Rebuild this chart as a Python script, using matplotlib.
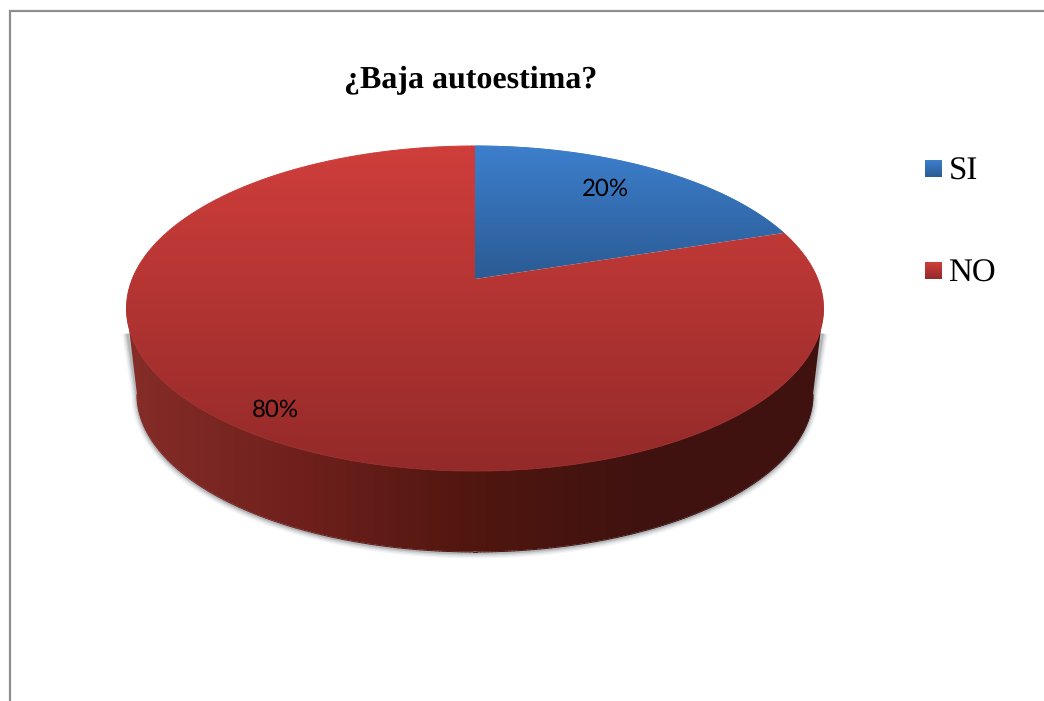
#!/usr/bin/env python3
"""Pie 3D "¿Baja autoestima?" (SI / NO), drawn in pixel coords of the original picture."""
import matplotlib
matplotlib.use("Agg")
import matplotlib.pyplot as plt
import numpy as np
from matplotlib.collections import LineCollection
from matplotlib.colors import LinearSegmentedColormap
from matplotlib.patches import PathPatch, Polygon, Rectangle
from matplotlib.path import Path

plt.rcParams["text.hinting"] = "no_hinting"
plt.rcParams["text.hinting_factor"] = 1

W, H = 1044, 701

TITLE = "¿Baja autoestima?"
CATEGORIES = ["SI", "NO"]
VALUES = [20, 80]
VALUE_LABELS = ["20%", "80%"]

TOP_COLORS = [("#3d7fcd", "#2a5b94"), ("#cf3e3b", "#932a29")]
SIDE_COLORS = ["#862d28", "#6f201c", "#50160f", "#3f1210", "#3f1210"]

# perspective of the pie's top face: unit circle -> image pixels
CX, CY_APEX = 475, 279
PERSP = 0.1815
SCALE_X = 342.7
SCALE_Y = -106.5
DEPTH_SCALE = 0.97
FRONT_BOTTOM = 471
SIDE_BOTTOM = 552
WIDEST_ANGLE = 100.5  # where the projected rim is widest


def project(angle_deg, r=1.0):
    """angle is clockwise from 12 o'clock, r is the fraction of the radius"""
    a = np.radians(angle_deg)
    x, y = r * np.sin(a), r * np.cos(a)
    d = 1 + PERSP * y
    return CX + SCALE_X * x / d, (CY_APEX + SCALE_Y * y) / d


def lower_face(xs, ys):
    return CX + (xs - CX) * DEPTH_SCALE, SIDE_BOTTOM - (FRONT_BOTTOM - ys) * DEPTH_SCALE


def gradient(ax, patch, cmap, box, horizontal=False):
    g = np.linspace(0, 1, 256)
    g = g.reshape(1, -1) if horizontal else g.reshape(-1, 1)
    im = ax.imshow(g, cmap=cmap, extent=box, aspect="auto", interpolation="bilinear",
                   origin="upper", zorder=patch.get_zorder())
    ax.add_patch(patch)
    patch.set_visible(False)
    im.set_clip_path(patch)
    return im


def smooth_edge(ax, xs, ys, colors, zorder):
    # image clipping is jagged, so go over the edge with an antialiased line
    pts = np.c_[xs, ys]
    segs = np.stack([pts[:-1], pts[1:]], axis=1)
    ax.add_collection(LineCollection(segs, colors=colors, linewidths=0.7, zorder=zorder,
                                     capstyle="round"))


fig = plt.figure(figsize=(W / 100, H / 100), dpi=100)
ax = fig.add_axes([0, 0, 1, 1])
ax.axis("off")

# chart frame, runs off the picture at the right and bottom
ax.plot([9.5, 9.5, W + 5], [H + 5, 10.5, 10.5], color="#8e8e8e", lw=1.6, zorder=1,
        solid_joinstyle="miter")

# side wall: front half of the rim (both faces)
front = np.linspace(WIDEST_ANGLE, 360 - WIDEST_ANGLE, 300)
fx, fy = project(front)
bx, by = lower_face(fx, fy)
side_xy = np.r_[np.c_[fx, fy], np.c_[bx, by - 0.4][::-1]]
side_cmap = LinearSegmentedColormap.from_list("side", SIDE_COLORS)

# soft shadow under the wall, running up the two straight ends
shadow_x = np.r_[fx[0] - 1, bx, fx[-1] + 1]
shadow_y = np.r_[fy[0] + 25, by + 1, fy[-1] + 25]
for lw, alpha in [(8, 0.05), (6, 0.08), (4, 0.12), (2, 0.2)]:
    ax.plot(shadow_x, shadow_y, color="#404a50", lw=lw, alpha=alpha, zorder=2,
            solid_capstyle="butt")

side = Polygon(side_xy, closed=True, zorder=3)
gradient(ax, side, side_cmap, (125, 826, 560, 300), horizontal=True)
smooth_edge(ax, bx, by, side_cmap((bx[:-1] - 125) / 701), 3.5)

# top face wedges, clockwise from 12 o'clock
edges = np.r_[0, np.cumsum(VALUES)] / np.sum(VALUES) * 360
for i, (v0, v1) in enumerate(zip(edges[:-1], edges[1:])):
    arc = np.linspace(v0, v1, 400)
    ax_, ay_ = project(arc)
    verts = np.r_[[[CX, CY_APEX]], np.c_[ax_, ay_], [[CX, CY_APEX]]]
    codes = [Path.MOVETO] + [Path.LINETO] * (len(verts) - 2) + [Path.CLOSEPOLY]
    wedge = PathPatch(Path(verts, codes), zorder=4 + i)
    cmap = LinearSegmentedColormap.from_list(f"top{i}", TOP_COLORS[i])
    y0, y1 = ay_.min(), (ay_.max() if i else CY_APEX)
    gradient(ax, wedge, cmap, (ax_.min() - 2, ax_.max() + 2, y1, y0))
    smooth_edge(ax, ax_, ay_, cmap((ay_[:-1] - y0) / (y1 - y0)), 6)

# value labels
label_font = ["Lato", "DejaVu Sans"]
for txt, (lx, ly) in zip(VALUE_LABELS, [(605, 189), (275, 410)]):
    ax.text(lx, ly, txt, ha="center", va="center", fontsize=17, family=label_font,
            color="black", zorder=10)

ax.text(471, 80, TITLE, ha="center", va="center", fontsize=23, fontweight="bold",
        family="Liberation Serif", color="black", zorder=10)

# legend
for i, (name, ly) in enumerate(zip(CATEGORIES, [168.5, 270.5])):
    cmap = LinearSegmentedColormap.from_list(f"leg{i}", TOP_COLORS[i])
    sq = Rectangle((925, ly - 8.5), 17, 17, zorder=5)
    gradient(ax, sq, cmap, (925, 942, ly + 8.5, ly - 8.5))
    ax.text(948.5, ly + 3.5, name, ha="left", va="center", fontsize=23.5,
            family="Liberation Serif", color="black", zorder=10)

ax.set_xlim(0, W)
ax.set_ylim(H, 0)

fig.savefig("out.png", dpi=100, facecolor="white")
